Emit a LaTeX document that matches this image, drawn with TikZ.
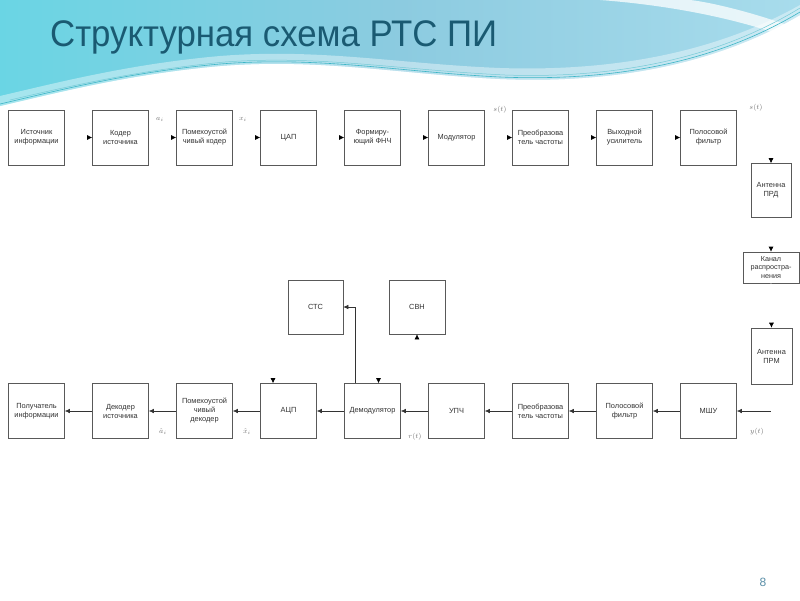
\documentclass[tikz,border=0pt]{standalone}
\usepackage{fontspec}
\setmainfont{Liberation Sans}
\usetikzlibrary{arrows.meta,calc}
\definecolor{titlec}{HTML}{1A5A72}
\definecolor{pgnum}{HTML}{5A8FA8}
\definecolor{cyanL}{HTML}{6AD5E4}
\definecolor{blueM}{HTML}{8CCBE0}
\definecolor{blueR}{HTML}{A8DCEC}
\definecolor{tealline}{HTML}{3DB5C6}
\begin{document}
\begin{tikzpicture}[x=1pt,y=-1pt,
  blk/.style={draw=black!65, line width=0.6pt, fill=white, minimum width=56pt, minimum height=55pt,
    inner sep=1pt, align=center, font=\fontsize{7.4}{9}\selectfont, text=black!80},
  arr/.style={draw=black!80, line width=0.6pt, -{Latex[length=5pt,width=4.5pt]}},
  ghost/.style={draw=white, line width=0.6pt, -{Latex[length=5pt,width=5pt,black]}},
  sig/.style={font=\fontsize{7}{7}\selectfont, text=black!55, inner sep=0.5pt}
]
\useasboundingbox (0,0) rectangle (800,600);
\fill[white] (0,0) rectangle (800,600);
% header band
\shade[left color=cyanL, right color=blueR, middle color=blueM]
  (0,0) -- (800,0) -- (800,15) .. controls (720,62) and (620,84) .. (500,79)
  .. controls (400,74) and (320,58) .. (220,66) .. controls (130,74) and (60,92) .. (0,106) -- cycle;
\fill[white, opacity=0.75] (600,0) .. controls (680,6) and (750,22) .. (800,42) -- (800,30)
  .. controls (760,14) and (710,2) .. (690,0) -- cycle;
\fill[white, opacity=0.4] (0,106) .. controls (60,92) and (130,74) .. (220,66)
  .. controls (320,58) and (400,74) .. (500,79) .. controls (620,84) and (720,62) .. (800,15)
  -- (800,5) .. controls (720,50) and (620,72) .. (500,68) .. controls (400,64) and (320,48) .. (220,56)
  .. controls (130,64) and (60,82) .. (0,96) -- cycle;
\draw[tealline, line width=0.6pt] (0,104) .. controls (60,90) and (130,72) .. (220,64)
  .. controls (320,56) and (400,72) .. (500,77) .. controls (620,82) and (720,60) .. (800,12);
\draw[tealline!70, line width=0.5pt] (10,100) .. controls (70,86) and (140,70) .. (225,62)
  .. controls (320,55) and (400,70) .. (505,75) .. controls (620,79) and (720,57) .. (800,8);

\node[anchor=base west, font=\fontsize{37}{37}\selectfont, text=titlec, inner sep=0pt] (title) at (50,46)
  {\scalebox{0.94}[1]{Структурная схема РТС ПИ}};
\node[font=\fontsize{12}{12}\selectfont, text=pgnum] (pg) at (763,582) {8};

% top row
\node[blk] (n1) at (36.5,137.5) {Источник\\информации};
\node[blk] (n2) at (120.5,137.5) {Кодер\\источника};
\node[blk] (n3) at (204.5,137.5) {Помехоустой\\чивый кодер};
\node[blk] (n4) at (288.5,137.5) {ЦАП};
\node[blk] (n5) at (372.5,137.5) {Формиру-\\ющий ФНЧ};
\node[blk] (n6) at (456.5,137.5) {Модулятор};
\node[blk] (n7) at (540.5,137.5) {Преобразова\\тель частоты};
\node[blk] (n8) at (624.5,137.5) {Выходной\\усилитель};
\node[blk] (n9) at (708.5,137.5) {Полосовой\\фильтр};

% right column
\node[blk, minimum width=40pt, minimum height=54pt] (prd) at (771,190.5) {Антенна\\ПРД};
\node[blk, minimum width=56pt, minimum height=31pt, font=\fontsize{7.2}{8.4}\selectfont] (kan) at (771,267.5) {Канал\\распростра-\\нения};
\node[blk, minimum width=41pt, minimum height=56pt] (prm) at (771.5,356) {Антенна\\ПРМ};

% bottom row
\node[blk] (m1) at (36.5,411) {Получатель\\информации};
\node[blk] (m2) at (120.5,411) {Декодер\\источника};
\node[blk] (m3) at (204.5,411) {Помехоустой\\чивый\\декодер};
\node[blk] (m4) at (288.5,411) {АЦП};
\node[blk] (m5) at (372.5,411) {Демодулятор};
\node[blk] (m6) at (456.5,411) {УПЧ};
\node[blk] (m7) at (540.5,411) {Преобразова\\тель частоты};
\node[blk] (m8) at (624.5,411) {Полосовой\\фильтр};
\node[blk] (m9) at (708.5,411) {МШУ};

\node[blk, minimum width=55pt, minimum height=54pt] (stc) at (315.5,307) {СТС};
\node[blk, minimum width=56pt, minimum height=54pt] (svn) at (417,307) {СВН};

% top row connectors (only tips visible)
\foreach \a/\b in {n1/n2,n2/n3,n3/n4,n4/n5,n5/n6,n6/n7,n7/n8,n8/n9}
  \draw[ghost] (\a.east) -- (\b.west);
\draw[ghost] (n9.east) -| (prd.north);
\draw[ghost] (prd.south) -- (kan.north);
\draw[ghost] (kan.south) -- (prm.north);

% bottom row connectors
\coordinate (yin) at ($(prm.south |- m9.east)+(-1,0)$);
\draw[arr] (yin) -- (m9.east);
\foreach \a/\b in {m9/m8,m8/m7,m7/m6,m6/m5,m5/m4,m4/m3,m3/m2,m2/m1}
  \draw[arr] (\a.west) -- (\b.east);
\draw[arr] ([xshift=-17.5pt]m5.north) |- (stc.east);
\draw[ghost] ($(svn.south)+(0,14)$) -- (svn.south);
\draw[ghost] ($(m4.north)+(-15.5,-14)$) -- ($(m4.north)+(-15.5,0)$);
\draw[ghost] ($(m5.north)+(6,-14)$) -- ($(m5.north)+(6,0)$);

% signal labels
\node[sig] (la) at (160,119) {$a_i$};
\node[sig] (lx) at (243,119) {$x_i$};
\node[sig] (ls) at (500,110) {$s(t)$};
\node[sig] (ls2) at (756,108) {$s(t)$};
\node[sig] (lah) at (163,432) {$\hat a_i$};
\node[sig] (lxh) at (247,432) {$\hat x_i$};
\node[sig] (lr) at (415,437) {$r(t)$};
\node[sig] (ly) at (757,432) {$y(t)$};
\end{tikzpicture}
\end{document}
